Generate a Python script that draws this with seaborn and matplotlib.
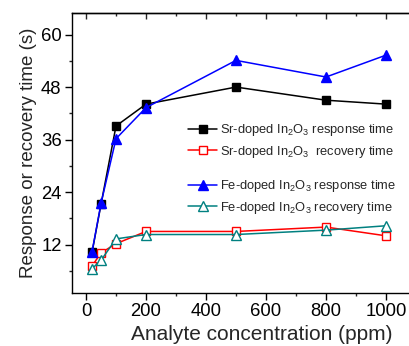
import matplotlib
matplotlib.use("Agg")
import matplotlib.pyplot as plt
import seaborn as sns
import pandas as pd
from matplotlib.lines import Line2D
from matplotlib.ticker import MultipleLocator

sns.set_style("ticks")
plt.rcParams['font.family'] = ['Liberation Sans', 'DejaVu Sans']
plt.rcParams['mathtext.fontset'] = 'custom'
plt.rcParams['mathtext.rm'] = 'Liberation Sans'

conc = [20, 50, 100, 200, 500, 800, 1000]
sr_response = [10.2, 21.2, 39.1, 44.1, 48.0, 45.0, 44.1]
sr_recovery = [7.1, 10.1, 12.2, 15.0, 15.0, 16.0, 14.0]
fe_response = [10.3, 21.4, 36.2, 43.3, 54.1, 50.3, 55.3]
fe_recovery = [6.5, 8.4, 13.3, 14.3, 14.3, 15.3, 16.3]

labels = [r"Sr-doped In$_\mathregular{2}$O$_\mathregular{3}$ response time",
          r"Sr-doped In$_\mathregular{2}$O$_\mathregular{3}$  recovery time",
          r"Fe-doped In$_\mathregular{2}$O$_\mathregular{3}$ response time",
          r"Fe-doped In$_\mathregular{2}$O$_\mathregular{3}$ recovery time"]

series = [
    (sr_response, 'black', 's', 'black', 6.3),
    (sr_recovery, '#ff0000', 's', 'white', 6.3),
    (fe_response, '#0000ff', '^', '#0000ff', 7.6),
    (fe_recovery, '#008080', '^', 'white', 7.6),
]

fig = plt.figure(figsize=(4.09, 3.46), dpi=100)
ax = fig.add_axes([72/409, 53.3/346, 380/409, 280/346])

handles = []
for (vals, col, mk, fc, ms), lab in zip(series, labels):
    df = pd.DataFrame({'x': conc, 'y': vals})
    sns.lineplot(data=df, x='x', y='y', ax=ax, color=col, marker=mk,
                 markerfacecolor=fc, markeredgecolor=col, markersize=ms,
                 markeredgewidth=1.0, linewidth=1.1, zorder=3)
    handles.append(Line2D([], [], color=col, marker=mk, markerfacecolor=fc,
                          markeredgecolor=col, markersize=ms, linewidth=1.1,
                          markeredgewidth=1.0, label=lab))

ax.set_xlim(-46.7, -46.7 + 380/0.3)
ax.set_ylim(1, 65)
ax.set_xticks([0, 200, 400, 600, 800, 1000])
ax.xaxis.set_minor_locator(MultipleLocator(100))
ax.yaxis.set_major_locator(MultipleLocator(12))
ax.yaxis.set_minor_locator(MultipleLocator(6))

for sp in ax.spines.values():
    sp.set_linewidth(1.0)
    sp.set_color('black')
ax.spines['right'].set_visible(False)

ax.tick_params(axis='both', which='major', labelsize=13.3, direction='out',
               length=5, width=1, colors='black', pad=2.5)
ax.tick_params(axis='both', which='minor', direction='out', length=2.5, width=1)

sec = ax.secondary_xaxis('top')
sec.set_xticks([0, 200, 400, 600, 800, 1000, 1200])
sec.xaxis.set_minor_locator(MultipleLocator(100))
sec.tick_params(which='major', direction='in', length=4, width=1, labeltop=False)
sec.tick_params(which='minor', direction='in', length=2.5, width=1)
sec.spines['top'].set_linewidth(1.0)

ax.set_xlabel("Analyte concentration (ppm)", fontsize=15, labelpad=3.5)
ax.set_ylabel("Response or recovery time (s)", fontsize=13.5, labelpad=3)

common = dict(frameon=False, fontsize=9.3, handlelength=2.25, handletextpad=0.25,
              labelspacing=0.45, borderaxespad=0, borderpad=0, loc='center left',
              bbox_transform=fig.transFigure)
leg1 = ax.legend(handles=handles[:2], bbox_to_anchor=(188/409, 1 - 141/346), **common)
ax.add_artist(leg1)
leg2 = ax.legend(handles=handles[2:], bbox_to_anchor=(188/409, 1 - 197/346), **common)

fig.savefig("out.png", dpi=100)
